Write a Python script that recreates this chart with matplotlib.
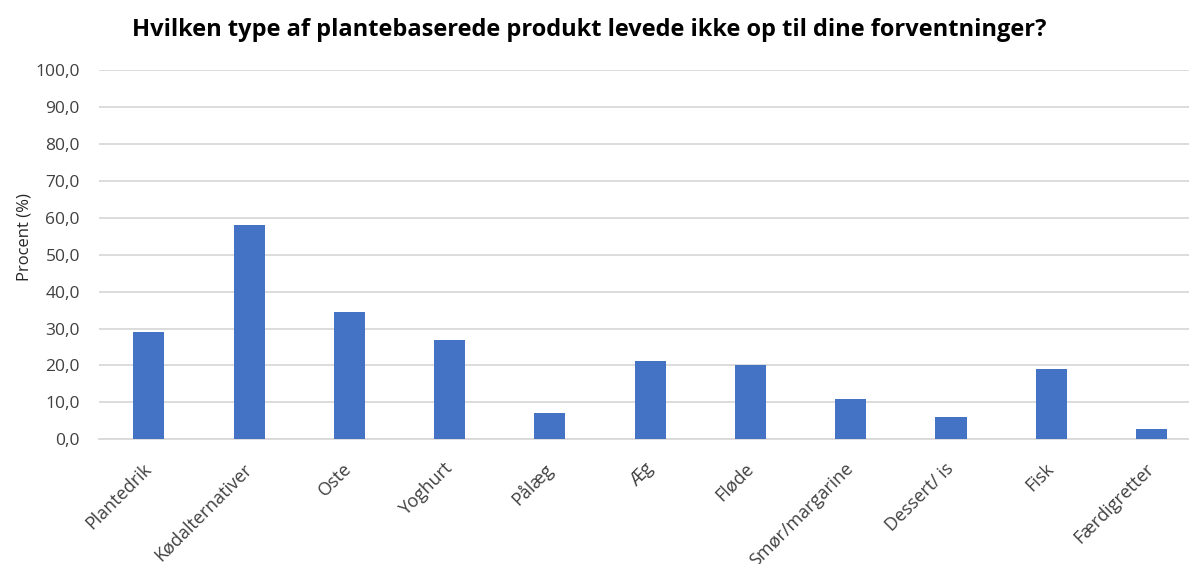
import matplotlib
matplotlib.use("Agg")
from matplotlib import pyplot as plt
from matplotlib.ticker import FuncFormatter, MultipleLocator
import matplotlib.transforms as mtransforms
import numpy as np

# andel (%) pr. produkttype
kategorier = ["Plantedrik", "Kødalternativer", "Oste", "Yoghurt", "Pålæg", "Æg",
              "Fløde", "Smør/margarine", "Dessert/ is", "Fisk", "Færdigretter"]
procent = [29.0, 58.0, 34.5, 26.8, 7.0, 21.2, 20.2, 10.9, 6.0, 19.1, 2.8]

plt.rcParams["font.family"] = ["Open Sans", "DejaVu Sans"]

fig = plt.figure(figsize=(11.89, 5.64), dpi=100)
# plotomraadet er beskaaret i hoejre side
ax = fig.add_axes([0.083, 0.2211, 0.9277, 0.6548])

x = np.arange(len(kategorier))
ax.bar(x, procent, width=0.31, color="#4472C4", zorder=3)

ax.set_xlim(-0.5, len(kategorier) - 0.5)
ax.set_ylim(0, 100)
ax.yaxis.set_major_locator(MultipleLocator(10))
ax.yaxis.set_major_formatter(FuncFormatter(lambda v, p: f"{v:.1f}".replace(".", ",")))
ax.grid(axis="y", color="#D9D9D9", linewidth=1.3, zorder=0)

for s in ["top", "right", "left"]:
    ax.spines[s].set_visible(False)
ax.spines["bottom"].set_color("#D9D9D9")
ax.spines["bottom"].set_linewidth(1.3)
ax.tick_params(axis="both", length=0, labelcolor="#404040")
ax.tick_params(axis="y", pad=13.5, labelsize=12.5)

ax.set_xticks(x)
ax.set_xticklabels(kategorier, rotation=45, ha="right", va="center",
                   rotation_mode="anchor", fontsize=13)
ax.tick_params(axis="x", pad=20)
skub = mtransforms.ScaledTranslation(0, 0.01, fig.dpi_scale_trans)
for lbl in ax.get_xticklabels():
    lbl.set_transform(lbl.get_transform() + skub)

fig.text(25 / 1189, 1 - 237 / 564, "Procent (%)", rotation=90, ha="center", va="center",
         fontsize=12, color="#262626")

fig.text(0.496, 1 - 30 / 564, "Hvilken type af plantebaserede produkt levede ikke op til dine forventninger?",
         ha="center", va="center", fontsize=17, fontweight="bold", color="black")

fig.savefig("out.png", dpi=100)
